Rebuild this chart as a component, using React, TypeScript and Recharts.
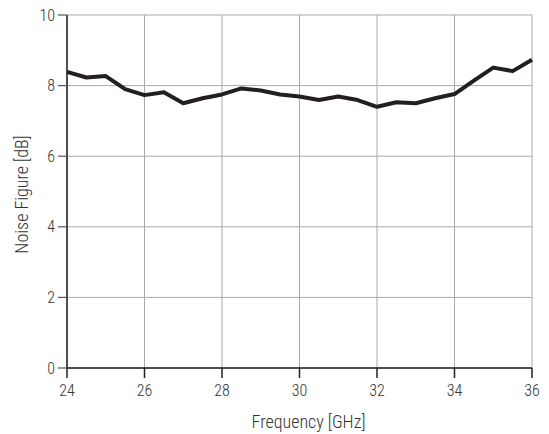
import React from "react";
import { LineChart, Line, XAxis, YAxis, CartesianGrid } from "recharts";

const frequencies = [24, 24.5, 25, 25.5, 26, 26.5, 27, 27.5, 28, 28.5, 29, 29.5, 30, 30.5, 31, 31.5, 32, 32.5, 33, 33.5, 34, 34.5, 35, 35.5, 36];
const noiseFigure = [8.39, 8.23, 8.27, 7.9, 7.73, 7.81, 7.5, 7.64, 7.75, 7.92, 7.86, 7.75, 7.69, 7.59, 7.69, 7.59, 7.4, 7.53, 7.5, 7.64, 7.76, 8.14, 8.51, 8.41, 8.73];
const xTicks = [24, 26, 28, 30, 32, 34, 36];
const yTicks = [0, 2, 4, 6, 8, 10];

const data = frequencies.map((f, i) => ({ f, nf: noiseFigure[i] }));

const FONT = '"Roboto Condensed", "Liberation Sans Narrow", sans-serif';
const tickStyle = { fontFamily: FONT, fontSize: 16, fontWeight: 300, fill: "#333" };

export default function App() {
  return (
    <div style={{ position: "absolute", left: 0, top: 0, background: "#fff" }}>
      <LineChart width={549} height={434} data={data} margin={{ top: 15, right: 17, left: 0, bottom: 36 }}>
        <CartesianGrid stroke="#aaa" strokeWidth={1} verticalValues={xTicks} horizontalValues={yTicks} />
        <XAxis
          dataKey="f"
          type="number"
          domain={[24, 36]}
          ticks={xTicks}
          height={30}
          tickSize={10}
          tickMargin={7}
          axisLine={{ stroke: "#231f20", strokeWidth: 1.5 }}
          tickLine={{ stroke: "#231f20", strokeWidth: 1.5 }}
          tick={tickStyle}
          label={{ value: "Frequency [GHz]", position: "insideBottom", offset: -30, dx: 9, style: { fontFamily: FONT, fontSize: 18, fontWeight: 300, fill: "#333" } }}
        />
        <XAxis xAxisId="top" orientation="top" dataKey="f" type="number" domain={[24, 36]} height={0} tick={false} tickLine={false} axisLine={{ stroke: "#555", strokeWidth: 1.5 }} />
        <YAxis
          type="number"
          domain={[0, 10]}
          ticks={yTicks}
          width={67}
          tickSize={9}
          tickMargin={3}
          axisLine={{ stroke: "#231f20", strokeWidth: 1.5 }}
          tickLine={{ stroke: "#555", strokeWidth: 1.2 }}
          tick={tickStyle}
          label={{ value: "Noise Figure [dB]", angle: -90, position: "insideLeft", offset: 22, dy: 3, style: { textAnchor: "middle", fontFamily: FONT, fontSize: 18, fontWeight: 300, fill: "#333" } }}
        />
        <YAxis yAxisId="right" orientation="right" domain={[0, 10]} width={0} tick={false} tickLine={false} axisLine={{ stroke: "#231f20", strokeWidth: 1.5 }} />
        <Line dataKey="nf" stroke="#231f20" strokeWidth={4} dot={false} isAnimationActive={false} strokeLinejoin="round" />
      </LineChart>
    </div>
  );
}
